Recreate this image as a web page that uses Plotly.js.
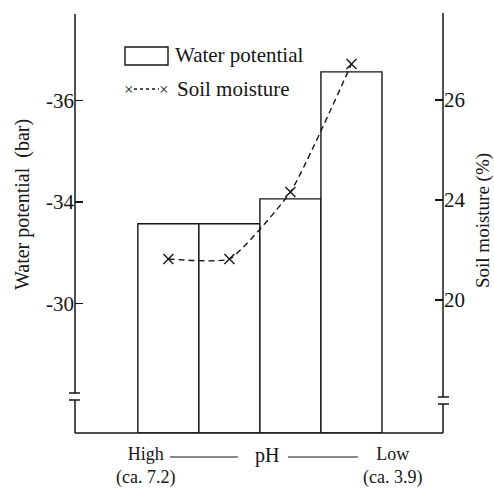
<!DOCTYPE html>
<html><head><meta charset="utf-8">
<script src="https://cdn.plot.ly/plotly-3.0.1.min.js"></script>
<style>html,body{margin:0;padding:0;background:#fff}#chart{width:494px;height:489px}</style>
</head><body><div id="chart"></div>
<script>
// ---- data ----
const categories = ['pH level 1', 'pH level 2', 'pH level 3', 'pH level 4'];
const waterPotential = [-33.57, -33.57, -34.06, -36.56];   // bar
const soilMoisture = [22.82, 22.82, 24.16, 26.72];          // %
const wpTickVals = [-36, -34, -32];
const wpTickText = ['-36', '-34', '-30'];
const smTickVals = [26, 24, 22];
const smTickText = ['26', '24', '20'];

// ---- layout helpers ----
const W = 494, H = 489, L = 75, R = 51, T = 14, B = 56;
const pw = W - L - R, ph = H - T - B;
const px = x => (x - L) / pw;
const py = y => (H - B - y) / ph;
const wpRange = [-29.45, -37.70];
const smRange = [19.34, 27.72];
const FONT = 'Liberation Serif, Times New Roman, serif';
const ink = '#161616';

const barTrace = {
  type: 'bar', x: categories,
  base: categories.map(() => wpRange[0]),
  y: waterPotential.map(v => v - wpRange[0]),
  width: 1, marker: {color: '#ffffff', line: {color: ink, width: 1.4}},
  yaxis: 'y', xaxis: 'x', showlegend: false, hoverinfo: 'skip'
};
const lineTrace = {
  type: 'scatter', mode: 'lines+markers', x: categories, y: soilMoisture,
  yaxis: 'y2', xaxis: 'x',
  line: {color: ink, width: 1.4, dash: '6px,4px', shape: 'spline', smoothing: 0.45},
  marker: {symbol: 'x-thin', size: 10, color: ink, line: {color: ink, width: 1.4}},
  showlegend: false, hoverinfo: 'skip', cliponaxis: false
};

const axLine = {color: ink, width: 1.5};
const shapes = [
  // left axis with break
  {type: 'line', xref: 'paper', yref: 'paper', x0: 0, x1: 0, y0: 0, y1: py(400), line: axLine},
  {type: 'line', xref: 'paper', yref: 'paper', x0: 0, x1: 0, y0: py(393), y1: 1, line: axLine},
  {type: 'line', xref: 'paper', yref: 'paper', x0: px(69), x1: px(80), y0: py(393), y1: py(393), line: axLine},
  {type: 'line', xref: 'paper', yref: 'paper', x0: px(69), x1: px(80), y0: py(400), y1: py(400), line: axLine},
  // right axis with break
  {type: 'line', xref: 'paper', yref: 'paper', x0: 1, x1: 1, y0: 0, y1: py(404), line: axLine},
  {type: 'line', xref: 'paper', yref: 'paper', x0: 1, x1: 1, y0: py(397), y1: py(13), line: axLine},
  {type: 'line', xref: 'paper', yref: 'paper', x0: px(438), x1: px(449), y0: py(397), y1: py(397), line: axLine},
  {type: 'line', xref: 'paper', yref: 'paper', x0: px(438), x1: px(449), y0: py(404), y1: py(404), line: axLine},
  // bottom axis
  {type: 'line', xref: 'paper', yref: 'paper', x0: 0, x1: 1, y0: 0, y1: 0, line: axLine},
  // pH lines
  {type: 'line', xref: 'paper', yref: 'paper', x0: px(170), x1: px(238), y0: py(457), y1: py(457), line: {color: ink, width: 1.2}},
  {type: 'line', xref: 'paper', yref: 'paper', x0: px(288), x1: px(358), y0: py(457), y1: py(457), line: {color: ink, width: 1.2}},
  // legend
  {type: 'rect', xref: 'paper', yref: 'paper', x0: px(125), x1: px(168), y0: py(65), y1: py(47), line: {color: ink, width: 1.4}, fillcolor: 'rgba(0,0,0,0)'},
  {type: 'line', xref: 'paper', yref: 'paper', x0: px(134), x1: px(159), y0: py(89), y1: py(89), line: {color: ink, width: 1.3, dash: '3px,3px'}}
];

const f = s => ({family: FONT, size: s, color: ink});
const ann = (text, x, y, opts) => Object.assign({
  text, xref: 'paper', yref: 'paper', x: px(x), y: py(y), showarrow: false,
  xanchor: 'center', yanchor: 'middle', font: f(20)
}, opts || {});

const annotations = [
  ann('Water potential  (bar)', 22, 205, {textangle: -90, font: f(20)}),
  ann('Soil moisture (%)', 483, 221, {textangle: -90, font: f(19)}),
  ann('High<br>(ca. 7.2)', 145, 466, {font: f(18), align: 'center'}),
  ann('pH', 267, 456),
  ann('Low<br>(ca. 3.9)', 392, 466, {font: f(18), align: 'center'}),
  ann('Water potential', 173, 55, {xanchor: 'left', font: f(21)}),
  ann('Soil moisture', 175, 89, {xanchor: 'left', font: f(21)}),
  ann('×', 129, 89, {font: f(17)}),
  ann('×', 164, 89, {font: f(17)})
];

const tickFont = f(21);
const layout = {
  width: W, height: H, margin: {l: L, r: R, t: T, b: B, pad: 0},
  paper_bgcolor: '#fff', plot_bgcolor: '#fff', showlegend: false,
  bargap: 0,
  font: {family: FONT, color: ink},
  xaxis: {type: 'category', categoryarray: categories, range: [-1.53, 4.5],
          showticklabels: false, ticks: '', showgrid: false, zeroline: false, showline: false, fixedrange: true},
  yaxis: {range: wpRange, tickvals: wpTickVals, ticktext: wpTickText, ticks: 'inside', ticklen: 8,
          tickwidth: 1.3, tickcolor: ink, tickfont: tickFont, showgrid: false, zeroline: false, showline: false},
  yaxis2: {overlaying: 'y', side: 'right', range: smRange, tickvals: smTickVals, ticktext: smTickText,
           ticks: 'inside', ticklen: 8, tickwidth: 1.3, tickcolor: ink, tickfont: tickFont,
           showgrid: false, zeroline: false, showline: false},
  shapes, annotations
};

Plotly.newPlot('chart', [barTrace, lineTrace], layout, {staticPlot: true, displayModeBar: false});
</script>
</body></html>
